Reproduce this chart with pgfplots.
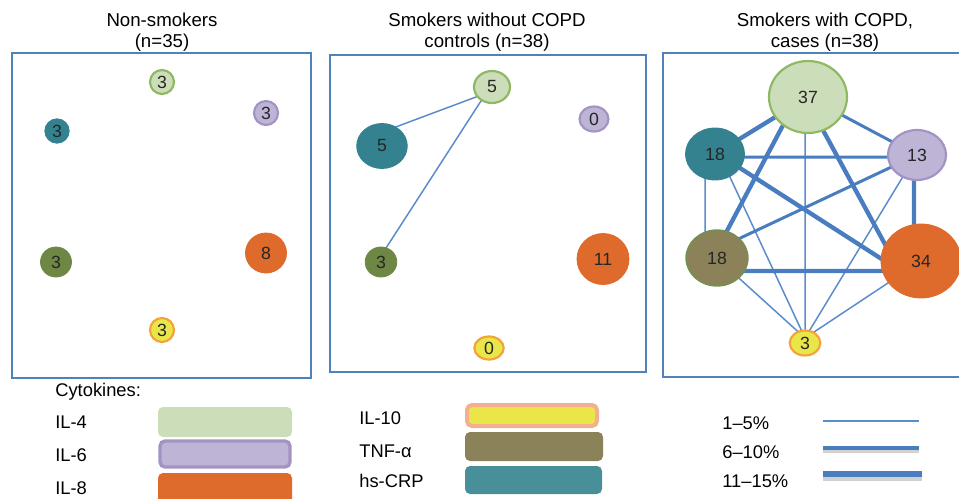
\documentclass[border=0pt]{standalone}
\usepackage{pgfplots}
\pgfplotsset{compat=1.18}
\usepackage{pgfplotstable}
\usepackage{fontspec}
\setmainfont{Liberation Sans}
\usetikzlibrary{shapes.geometric}

\definecolor{frame}{HTML}{4F81BD}
\definecolor{edge}{HTML}{4A7DC0}
\definecolor{edgethin}{HTML}{5B8CCB}
\definecolor{ilfourfill}{HTML}{CCDDB9}
\definecolor{ilfourdraw}{HTML}{8FB864}
\definecolor{ilsixfill}{HTML}{BDB4D6}
\definecolor{ilsixdraw}{HTML}{A393C3}
\definecolor{ileight}{HTML}{DE6A2B}
\definecolor{iltenfill}{HTML}{EAE64A}
\definecolor{iltendraw}{HTML}{F2A33A}
\definecolor{iltenlegend}{HTML}{F3B08E}
\definecolor{tnfgreen}{HTML}{6E8744}
\definecolor{tnfbrown}{HTML}{8C8259}
\definecolor{crp}{HTML}{34828F}

% node tables: pixel x, pixel y, radii, count
\pgfplotstableread{
x y rx ry lab
162 82 12 12 3
492 87 18 16 5
808 97 39 36 37
}\ilfour
\pgfplotstableread{
x y rx ry lab
266 113 12 12 3
594 119 14.5 12.5 0
917 155 29 25 13
}\ilsix
\pgfplotstableread{
x y rx ry lab
266 253 20.5 20 8
603 259 26 25.5 11
921 261 40 37 34
}\ileight
\pgfplotstableread{
x y rx ry lab
162 330 12 12 3
489 348 14.7 11.5 0
805 343 15.3 12.5 3
}\ilten
\pgfplotstableread{
x y rx ry lab
56 262 15.5 15 3
381 262 15.8 15 3
}\tnfa
\pgfplotstableread{
x y rx ry lab
717 258 31 28 18
}\tnfb
\pgfplotstableread{
x y rx ry lab
57 131 12.2 12.2 3
382 146 25.3 22.5 5
715 154 29.5 26 18
}\hscrp

\pgfplotsset{
  cytonode/.style n args={3}{only marks, mark=none, point meta=explicit symbolic,
    visualization depends on={\thisrow{rx} \as \rx},
    visualization depends on={\thisrow{ry} \as \ry},
    nodes near coords,
    every node near coord/.append style={ellipse, fill=#1, draw=#2, line width=#3,
      inner sep=0pt, anchor=center, minimum width={1.2pt*\rx}, minimum height={1.2pt*\ry},
      text=black!85, font=\fontsize{10.6}{12}\selectfont}},
}

\begin{document}
\begin{tikzpicture}
\begin{axis}[
  x=0.6pt, y=0.6pt, y dir=reverse,
  xmin=0, xmax=959, ymin=0, ymax=498,
  hide axis, clip=false,
]
% panel frames
\draw[frame, line width=1.2pt] (axis cs:12,53) rectangle (axis cs:311,378);
\draw[frame, line width=1.2pt] (axis cs:330,55) rectangle (axis cs:646,372);
\draw[frame, line width=1.2pt] (axis cs:663,53) rectangle (axis cs:975,377);

% titles
\node[align=center, font=\fontsize{11.2}{12.6}\selectfont] at (axis cs:162,32) {Non-smokers\\(n=35)};
\node[align=center, font=\fontsize{11.2}{12.6}\selectfont] at (axis cs:487,32) {Smokers without COPD\\controls (n=38)};
\node[align=center, font=\fontsize{11.2}{12.6}\selectfont] at (axis cs:825,32) {Smokers with COPD,\\cases (n=38)};

% edges, controls
\addplot[edgethin, line width=0.9pt, unbounded coords=jump] coordinates {
  (492,91) (385,131) (nan,nan)
  (490,87) (377,262)
};
% edges, cases: 1-5%
\addplot[edgethin, line width=0.9pt, unbounded coords=jump] coordinates {
  (805,97) (805,338) (nan,nan)
  (705,154) (705,259) (nan,nan)
  (722,160) (805,338) (nan,nan)
  (910,165) (805,338) (nan,nan)
  (730,270) (805,338) (nan,nan)
  (900,275) (805,338)
};
% 6-10%
\addplot[edge, line width=1.8pt, unbounded coords=jump] coordinates {
  (808,97) (917,155) (nan,nan)
  (715,157) (917,157) (nan,nan)
  (917,155) (717,249)
};
% 11-15%
\addplot[edge, line width=2.6pt, unbounded coords=jump] coordinates {
  (808,97) (715,154) (nan,nan)
  (798,97) (712,259) (nan,nan)
  (805,97) (893,259) (nan,nan)
  (715,152) (905,274) (nan,nan)
  (914,154) (914,259) (nan,nan)
  (717,271) (921,271)
};

% cytokine nodes
\addplot[cytonode={ilfourfill}{ilfourdraw}{1.3pt}] table[meta=lab] {\ilfour};
\addplot[cytonode={ilsixfill}{ilsixdraw}{1.3pt}] table[meta=lab] {\ilsix};
\addplot[cytonode={ileight}{ileight}{0.5pt}] table[meta=lab] {\ileight};
\addplot[cytonode={iltenfill}{iltendraw}{1.3pt}] table[meta=lab] {\ilten};
\addplot[cytonode={tnfgreen}{tnfgreen}{0.5pt}] table[meta=lab] {\tnfa};
\addplot[cytonode={tnfbrown}{ilfourdraw!80!black}{0.8pt}] table[meta=lab] {\tnfb};
\addplot[cytonode={crp}{crp}{0.5pt}] table[meta=lab] {\hscrp};

% legend
\begin{scope}[every node/.style={anchor=west, inner sep=0pt, font=\fontsize{11}{13}\selectfont}]
\node at (axis cs:55,392) {Cytokines:};
\node at (axis cs:55,422) {IL-4};
\node at (axis cs:55,455) {IL-6};
\node at (axis cs:55,488) {IL-8};
\node at (axis cs:359,418) {IL-10};
\node at (axis cs:359,451) {TNF-α};
\node at (axis cs:359,481) {hs-CRP};
\node at (axis cs:722,423) {1–5\%};
\node at (axis cs:722,452) {6–10\%};
\node at (axis cs:722,481) {11–15\%};
\end{scope}
\fill[ilfourfill, rounded corners=3pt] (axis cs:158,407) rectangle (axis cs:292,437);
\filldraw[fill=ilsixfill, draw=ilsixdraw, line width=2pt, rounded corners=3pt] (axis cs:160,441) rectangle (axis cs:290,467);
\fill[ileight, rounded corners=3pt] (axis cs:158,473) rectangle (axis cs:292,505);
\filldraw[fill=iltenfill, draw=iltenlegend, line width=2.4pt, rounded corners=3pt] (axis cs:467,405) rectangle (axis cs:597,426);
\fill[tnfbrown, rounded corners=3pt] (axis cs:465,432) rectangle (axis cs:603,461);
\fill[crp!90!white, rounded corners=3pt] (axis cs:465,466) rectangle (axis cs:602,494);
\draw[edgethin, line width=0.9pt] (axis cs:823,421) -- (axis cs:919,421);
\draw[black!18, line width=2.4pt] (axis cs:823,450.5) -- (axis cs:919,450.5);
\draw[edge, line width=2.8pt] (axis cs:823,448) -- (axis cs:919,448);
\draw[black!18, line width=3.6pt] (axis cs:823,477.5) -- (axis cs:922,477.5);
\draw[edge, line width=4pt] (axis cs:823,474) -- (axis cs:922,474);

\coordinate (TL) at (axis cs:0,0);
\coordinate (BR) at (axis cs:959,498);
\end{axis}
\pgfresetboundingbox
\path[use as bounding box] (TL) rectangle (BR);
\end{tikzpicture}
\end{document}
